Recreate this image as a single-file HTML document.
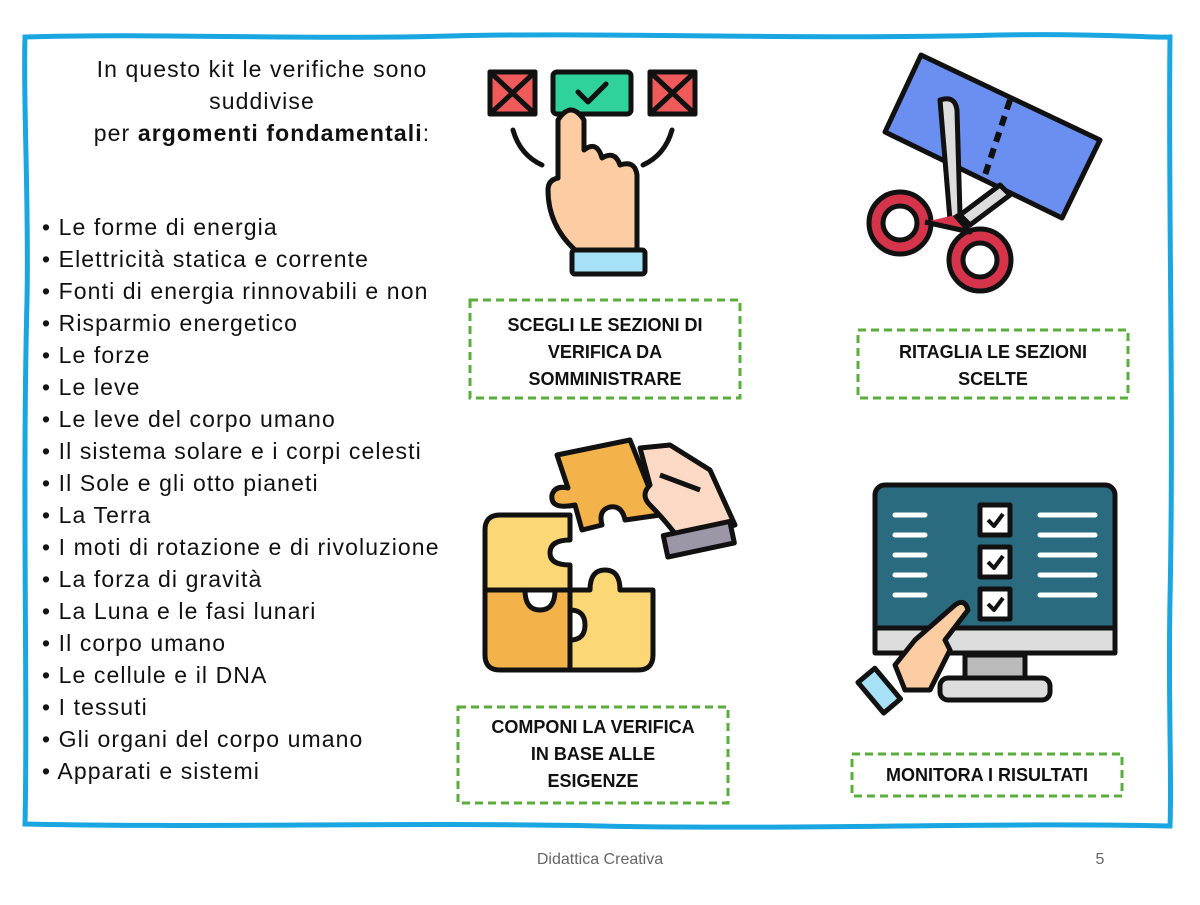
<!DOCTYPE html>
<html><head><meta charset="utf-8"><style>
body{margin:0;background:#fff;width:1200px;height:900px;overflow:hidden;font-family:"Liberation Sans",sans-serif}
</style></head><body>
<svg width="1200" height="900" viewBox="0 0 1200 900" xmlns="http://www.w3.org/2000/svg" font-family="Liberation Sans, sans-serif">
<path d="M25,37 C150,33 300,40 450,36 C600,32 800,40 1000,35 C1100,33 1150,38 1170,37 C1168,200 1174,400 1170,600 C1168,700 1172,780 1170,826 C1000,822 800,830 600,826 C400,822 200,828 25,824 C28,700 22,500 27,300 C29,200 23,100 25,37 Z" fill="none" stroke="#1aa6e0" stroke-width="5"/>
<g font-size="23" fill="#111" text-anchor="middle" letter-spacing="1.1">
<text x="262" y="77">In questo kit le verifiche sono</text>
<text x="262" y="109">suddivise</text>
<text x="262" y="141">per <tspan font-weight="bold">argomenti fondamentali</tspan>:</text>
</g>
<g font-size="23" fill="#111" letter-spacing="1.1">
<text x="42" y="235">• Le forme di energia</text>
<text x="42" y="267">• Elettricità statica e corrente</text>
<text x="42" y="299">• Fonti di energia rinnovabili e non</text>
<text x="42" y="331">• Risparmio energetico</text>
<text x="42" y="363">• Le forze</text>
<text x="42" y="395">• Le leve</text>
<text x="42" y="427">• Le leve del corpo umano</text>
<text x="42" y="459">• Il sistema solare e i corpi celesti</text>
<text x="42" y="491">• Il Sole e gli otto pianeti</text>
<text x="42" y="523">• La Terra</text>
<text x="42" y="555">• I moti di rotazione e di rivoluzione</text>
<text x="42" y="587">• La forza di gravità</text>
<text x="42" y="619">• La Luna e le fasi lunari</text>
<text x="42" y="651">• Il corpo umano</text>
<text x="42" y="683">• Le cellule e il DNA</text>
<text x="42" y="715">• I tessuti</text>
<text x="42" y="747">• Gli organi del corpo umano</text>
<text x="42" y="779">• Apparati e sistemi</text>
</g>
<!-- icon 1 -->
<g stroke="#111" stroke-width="5" stroke-linejoin="round" stroke-linecap="round">
<rect x="490" y="72" width="45" height="42" fill="#ef5a5a"/><path d="M490,72 L535,114 M535,72 L490,114"/>
<rect x="553" y="72" width="78" height="42" fill="#2fd29a" rx="4"/>
<path d="M578,92 L588,102 L606,84" fill="none"/>
<rect x="650" y="72" width="45" height="42" fill="#ef5a5a"/><path d="M650,72 L695,114 M695,72 L650,114"/>
<path d="M513,130 Q520,155 542,165 M672,130 Q665,155 643,165" fill="none"/>
<path d="M558,120 Q571,100 584,120 L584,150 Q597,140 602,158 Q615,150 620,165 Q635,160 637,175 L637,250 L575,250 Q548,225 548,190 Q548,180 558,178 Z" fill="#fccca2"/>
<rect x="572" y="250" width="73" height="24" rx="3" fill="#a7e1f8"/>
</g>
<!-- scissors -->
<g stroke="#111" stroke-width="5" stroke-linejoin="round">
<path d="M921,55 L1100,140 L1062,218 L885,132 Z" fill="#6b8ff0"/>
<path d="M1010,100 L985,175" stroke-dasharray="10 7" stroke-width="6"/>
<path d="M940,100 Q955,95 957,110 L960,215 L950,220 Z" fill="#ddd"/>
<path d="M1000,185 L1010,195 L970,225 L960,215 Z" fill="#ddd"/>
<circle cx="900" cy="223" r="24" fill="#fff" stroke="#d5344a" stroke-width="14"/>
<circle cx="980" cy="260" r="24" fill="#fff" stroke="#d5344a" stroke-width="14"/>
<circle cx="900" cy="223" r="31" fill="none"/><circle cx="900" cy="223" r="17" fill="none"/>
<circle cx="980" cy="260" r="31" fill="none"/><circle cx="980" cy="260" r="17" fill="none"/>
<path d="M955,215 L970,232 L925,222" fill="#d5344a"/>
</g>
<!-- puzzle -->
<g stroke="#111" stroke-width="5" stroke-linejoin="round">
<path d="M570,515 L570,540 Q550,540 550,553 Q550,565 570,565 L570,590 L485,590 L485,530 Q485,515 500,515 Z" fill="#fbd775"/>
<path d="M485,590 L525,590 Q525,610 540,610 Q555,610 555,590 L570,590 L570,670 L500,670 Q485,670 485,655 Z" fill="#f4b34a"/>
<path d="M570,590 L590,590 Q590,570 605,570 Q620,570 620,590 L653,590 L653,655 Q653,670 638,670 L570,670 L570,640 Q585,640 585,625 Q585,610 570,610 Z" fill="#fbd775"/>
<path d="M557,455 L630,440 L660,515 L625,520 Q622,505 610,507 Q598,510 602,525 L582,530 L575,505 Q550,510 552,495 Q555,485 568,488 Z" fill="#f4b34a"/>
<path d="M640,448 L670,445 L710,470 L735,525 L680,540 Q665,520 650,505 Q640,495 650,485 Z" fill="#fcd9c4"/>
<path d="M660,475 L700,490" fill="none"/>
<rect x="665" y="528" width="68" height="22" fill="#9b97a6" transform="rotate(-12 700 540)"/>
</g>
<!-- monitor -->
<g stroke="#111" stroke-width="5" stroke-linejoin="round">
<rect x="875" y="485" width="240" height="165" rx="10" fill="#2b6b80"/>
<rect x="875" y="628" width="240" height="25" fill="#ddd"/>
<rect x="965" y="655" width="60" height="25" fill="#bbb"/>
<rect x="940" y="678" width="110" height="22" rx="8" fill="#ddd"/>
<rect x="980" y="505" width="30" height="30" fill="#fff"/>
<rect x="980" y="547" width="30" height="30" fill="#fff"/>
<rect x="980" y="589" width="30" height="30" fill="#fff"/>
<path d="M988,520 L994,526 L1003,514 M988,562 L994,568 L1003,556 M988,604 L994,610 L1003,598" fill="none" stroke-width="4"/>
<path d="M895,665 L915,640 L955,605 Q965,598 968,610 L945,640 L950,650 L930,690 L905,690 Z" fill="#fccca2"/>
<rect x="868" y="670" width="22" height="40" fill="#a7e1f8" transform="rotate(-40 880 690)"/>
</g>
<g stroke="#fff" stroke-width="5" stroke-linecap="round">
<path d="M895,515 H925 M895,535 H925 M895,555 H925 M895,575 H925 M895,595 H925 M1040,515 H1095 M1040,535 H1095 M1040,555 H1095 M1040,575 H1095 M1040,595 H1095"/>
</g>
<!-- labels -->
<g fill="none" stroke="#5aae3c" stroke-width="3" stroke-dasharray="8 5">
<rect x="470" y="300" width="270" height="98"/>
<rect x="858" y="330" width="270" height="68"/>
<rect x="458" y="707" width="270" height="96"/>
<rect x="852" y="754" width="270" height="42"/>
</g>
<g font-size="18" font-weight="bold" fill="#111" text-anchor="middle">
<text x="605" y="331">SCEGLI LE SEZIONI DI</text>
<text x="605" y="358">VERIFICA DA</text>
<text x="605" y="385">SOMMINISTRARE</text>
<text x="993" y="358">RITAGLIA LE SEZIONI</text>
<text x="993" y="385">SCELTE</text>
<text x="593" y="733">COMPONI LA VERIFICA</text>
<text x="593" y="760">IN BASE ALLE</text>
<text x="593" y="787">ESIGENZE</text>
<text x="987" y="781">MONITORA I RISULTATI</text>
</g>
<text x="600" y="864" font-size="16" fill="#666" text-anchor="middle">Didattica Creativa</text>
<text x="1100" y="864" font-size="16" fill="#666" text-anchor="middle">5</text>
</svg>
</body></html>
